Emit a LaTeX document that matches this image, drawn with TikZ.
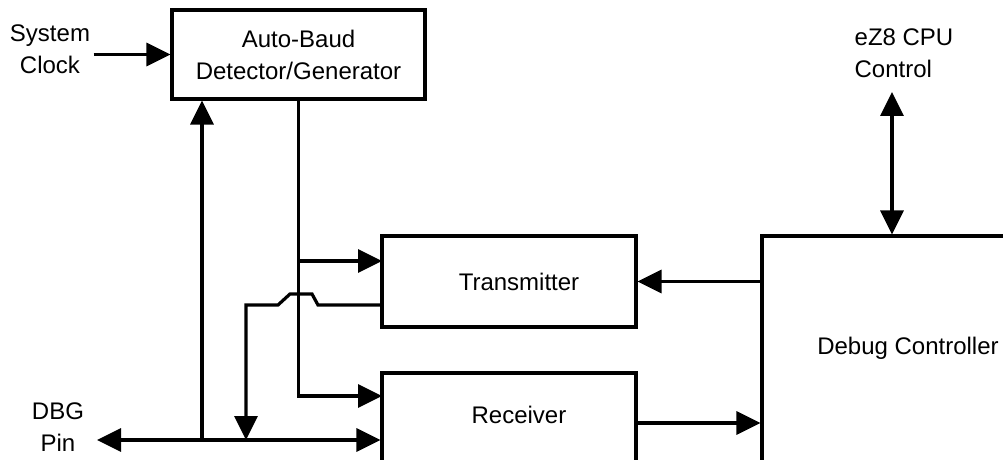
\documentclass[tikz,border=0pt]{standalone}
\usepackage{fontspec}
\setmainfont{Liberation Sans}
\usetikzlibrary{arrows.meta}

\begin{document}
\begin{tikzpicture}[x=0.5pt, y=-0.5pt, line width=1.6pt,
    font=\fontsize{12}{16}\selectfont,
    blk/.style={draw, rectangle, inner sep=0pt},
    txt/.style={align=center, inner sep=0pt},
    sig/.style={-{Triangle[length=12pt, width=11.5pt]}},
    bus/.style={{Triangle[length=12pt, width=11.5pt]}-{Triangle[length=12pt, width=11.5pt]}}]
    \clip (0,0) rectangle (1003,460);

    % blocks
    \node[blk, minimum width=126.5pt, minimum height=44.5pt, align=center] (ab) at (298.5,54.5) {Auto-Baud\\Detector/Generator};
    \node[blk, minimum width=127pt, minimum height=45.5pt,
          label={[xshift=5pt]center:Transmitter}] (tx) at (509,281.5) {};
    \node[blk, minimum width=127pt, minimum height=73.5pt,
          label={[xshift=5pt, yshift=15.75pt]center:Receiver}] (rx) at (509,446.5) {};
    \node[blk, minimum width=169pt, minimum height=162pt,
          label={[xshift=-11.5pt, yshift=25pt]center:Debug Controller}] (dc) at (931,398) {};

    % outside labels
    \node[txt] (clk) at (50,49) {System\\Clock};
    \node[txt] (dbg) at (58,427) {DBG\\Pin};
    \node[txt, align=left] (cpu) at (904,53) {eZ8 CPU\\Control};

    % junction points
    \coordinate (dbgend) at (97,440);
    \coordinate (j1) at (202,440);
    \coordinate (j2) at (246,440);
    \coordinate (txin) at (382,261);
    \coordinate (txout) at (382,305);
    \coordinate (rxin) at (382,396);
    \coordinate (rxout) at (636,423);
    \coordinate (cpuend) at (892,92);

    % connections
    \draw[sig] (clk.east |- ab.west) ++(2,0) -- (ab.west);
    \draw[bus] (dbgend) -- (dbgend -| rx.west);
    \draw[sig] (j1) -- (j1 |- ab.south);
    \draw[sig] (ab.south) |- (rxin);
    \draw[sig] (ab.south |- txin) -- (txin);
    \draw[sig] (txout) -- (318,305) -- (312,294) -- (290,294) -- (278,305) -- (j2 |- txout) -- (j2);
    \draw[sig] (dc.west |- tx.east) -- (tx.east);
    \draw[sig] (rxout) -- (rxout -| dc.west);
    \draw[bus] (cpuend) -- (cpuend |- dc.north);
\end{tikzpicture}
\end{document}
